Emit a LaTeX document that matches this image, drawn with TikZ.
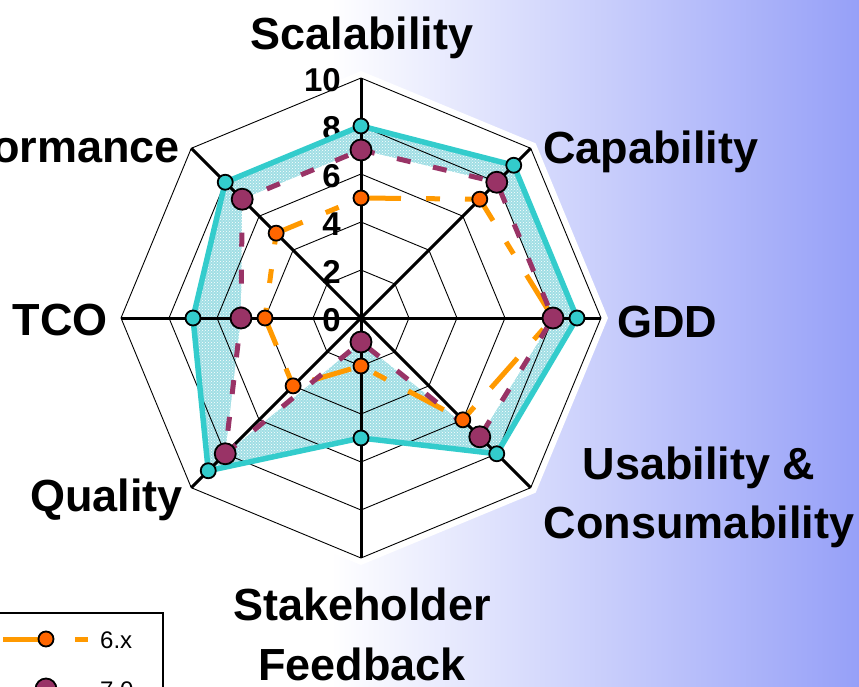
\documentclass[tikz,border=0pt]{standalone}
\usepackage{fontspec}
\setmainfont{Liberation Sans}
\usepackage{tikz}
\usetikzlibrary{calc}
\usetikzlibrary{patterns}
\usetikzlibrary{positioning}
\definecolor{bgblue}{RGB}{150,160,248}
\definecolor{tealline}{RGB}{51,204,204}
\definecolor{hatchbg}{RGB}{160,222,228}
\definecolor{plumline}{RGB}{153,51,102}
\definecolor{orangeline}{RGB}{255,153,0}
\definecolor{markorange}{RGB}{255,102,0}
\tikzset{axislabel/.style={font=\fontsize{45}{54}\selectfont\bfseries,inner sep=0pt}}

\begin{document}
\begin{tikzpicture}[x=1pt,y=1pt]
  % some styles
  \tikzset{
    ring/.style={draw=black,line width=0.9pt},
    spoke/.style={draw=black,line width=3pt},
    ticklabel/.style={font=\fontsize{33}{38}\selectfont\bfseries,inner sep=0pt,anchor=base east},
    tealdot/.style={circle,draw=black,line width=1.8pt,fill=tealline,minimum size=15pt,inner sep=0pt},
    plumdot/.style={circle,draw=black,line width=1.8pt,fill=plumline,minimum size=21pt,inner sep=0pt},
    orangedot/.style={circle,draw=black,line width=1.8pt,fill=markorange,minimum size=15pt,inner sep=0pt},
    tealrun/.style={draw=tealline,line width=5.5pt},
    plumrun/.style={draw=plumline,line width=5pt,dash pattern=on 14pt off 23pt},
    orangerun/.style={draw=orangeline,line width=5pt,dash pattern=on 40pt off 25pt on 14pt off 25pt},
    legtext/.style={font=\fontsize{24}{28}\selectfont,inner sep=0pt,anchor=base west}
  }
  \useasboundingbox (-361,-368) rectangle (498,318);
  % background
  \fill[white] (-361,-368) rectangle (498,318);
  \shade[left color=white,right color=bgblue] (-30,-368) rectangle (498,318);
  \fill[white] (0:247) \foreach \a in {45,90,...,315} {-- ({\a}:247)} -- cycle;

  % data points
  \coordinate (ctr) at (0,0);
  \foreach \v [count=\i] in {8,9,9,8,5,9,7,8}
    \coordinate (t\i) at ({135-45*\i}:{\v*24});
  \foreach \v [count=\i] in {7,8,8,7,1,8,5,7}
    \coordinate (p\i) at ({135-45*\i}:{\v*24});
  \foreach \v [count=\i] in {5,7,8,6,2,4,4,5}
    \coordinate (o\i) at ({135-45*\i}:{\v*24});
  \foreach \i in {1,...,8}
    \coordinate (ax\i) at ({135-45*\i}:240);

  % hatched area
  \path[fill=hatchbg,postaction={pattern=crosshatch dots,pattern color=white}]
    (t1) -- (t2) -- (t3) -- (t4) -- (t5) -- (t6) -- (t7) -- (t8) -- cycle;
  \fill[white] (p1) -- (p2) -- (p3) -- (p4) -- (p5) -- (p6) -- (p7) -- (p8) -- cycle;

  % grid
  \foreach \r in {2,4,...,10}
    \draw[ring] (0:{\r*24}) \foreach \a in {45,90,...,315} {-- ({\a}:{\r*24})} -- cycle;
  \foreach \v in {0,2,...,10}
    \node[ticklabel] (tick\v) at (-20,{\v*24-13}) {\v};
  \foreach \i in {1,...,8}
    \draw[spoke] (ctr) -- (ax\i);

  % series
  \draw[tealrun] (t1) -- (t2) -- (t3) -- (t4) -- (t5) -- (t6) -- (t7) -- (t8) -- cycle;
  \draw[orangerun] (o1) -- (o2) -- (o3) -- (o4) -- (o5) -- (o6) -- (o7) -- (o8) -- cycle;
  \draw[plumrun] (p1) -- (p2) -- (p3) -- (p4) -- (p5) -- (p6) -- (p7) -- (p8) -- cycle;
  \foreach \i in {1,...,8} {
    \node[tealdot] (tm\i) at (t\i) {};
    \node[orangedot] (om\i) at (o\i) {};
    \node[plumdot] (pm\i) at (p\i) {};
  }

  % axis names
  \node[axislabel,anchor=base] (scal) at (1,268) {Scalability};
  \node[axislabel,anchor=base west] (capa) at (182,155) {Capability};
  \node[axislabel,anchor=base west] (gdd) at (256,-19) {GDD};
  \node[axislabel,anchor=base] (usab) at (338,-161) {Usability \&};
  \node[axislabel,anchor=base] (cons) at (338,-220) {Consumability};
  \node[axislabel,anchor=base] (stake) at (1,-302) {Stakeholder};
  \node[axislabel,anchor=base] (feed) at (1,-362) {Feedback};
  \node[axislabel,anchor=base east] (qual) at (-178,-193) {Quality};
  \node[axislabel,anchor=base east] (tco) at (-253,-17) {TCO};
  \node[axislabel,anchor=base east] (perf) at (-181,156) {Performance};

  % legend
  \draw[fill=white,line width=1.5pt] (-380,-295) rectangle (-198,-430);
  \coordinate (la1) at (-358,-321);
  \coordinate (lb1) at (-318,-321);
  \coordinate (lc1) at (-286,-321);
  \coordinate (ld1) at (-273,-321);
  \draw[orangeline,line width=5pt] (la1) -- (lb1);
  \draw[orangeline,line width=5pt] (lc1) -- (ld1);
  \node[orangedot] (lm1) at (-315,-321) {};
  \node[legtext] (lt1) at (-261,-330) {6.x};
  \coordinate (la2) at (-358,-371);
  \coordinate (lb2) at (-318,-371);
  \coordinate (lc2) at (-286,-371);
  \coordinate (ld2) at (-273,-371);
  \draw[plumline,line width=5pt] (la2) -- (lb2);
  \draw[plumline,line width=5pt] (lc2) -- (ld2);
  \node[plumdot] (lm2) at (-315,-371) {};
  \node[legtext] (lt2) at (-261,-380) {7.0};
\end{tikzpicture}
\end{document}
